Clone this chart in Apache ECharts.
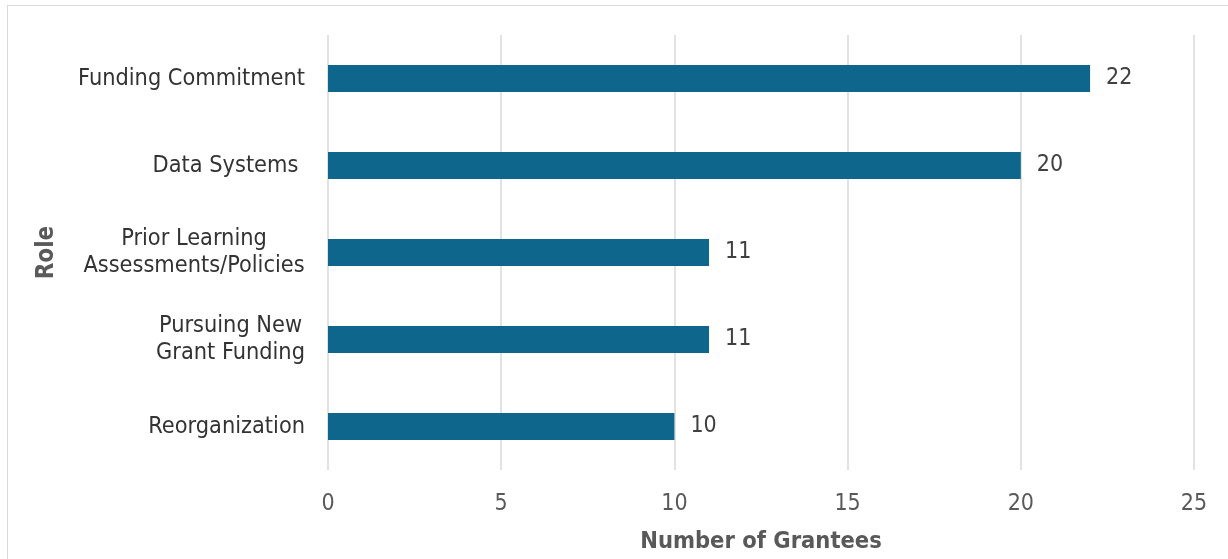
<!DOCTYPE html>
<html>
<head>
<meta charset="utf-8">
<script src="https://cdn.jsdelivr.net/npm/echarts@6/dist/echarts.min.js"></script>
<style>
  html, body { margin: 0; padding: 0; background: #ffffff; }
  #frame { position: absolute; left: 7px; top: 5px; width: 1240px; height: 580px; border: 1.5px solid #d9d9d9; box-sizing: border-box; }
  #chart { position: absolute; left: 0; top: 0; width: 1228px; height: 559px; }
</style>
</head>
<body>
<div id="frame"></div>
<div id="chart"></div>
<script>
// Roles, listed from bottom to top of the chart
const roles = [
  'Reorganization',
  'Pursuing New\nGrant Funding',
  'Prior Learning\nAssessments/Policies',
  'Data Systems ',
  'Funding Commitment'
];
// Number of grantees for each role
const grantees = [10, 11, 11, 20, 22];

const FONT = '"DejaVu Sans Condensed", "DejaVu Sans", sans-serif';
const LABEL_SIZE = 23.3;

// Multi-line category labels: lines are centred on each other while the
// whole block stays right-aligned against the axis.
const measure = document.createElement('canvas').getContext('2d');
measure.font = LABEL_SIZE + 'px ' + FONT;
const rich = {};
roles.forEach((r, i) => {
  const lines = r.split('\n');
  const w = Math.max(...lines.map(l => measure.measureText(l).width));
  rich['c' + i] = { width: Math.ceil(w), align: 'center', fontFamily: FONT, fontSize: LABEL_SIZE, color: '#333333', lineHeight: 27 };
});

const chart = echarts.init(document.getElementById('chart'), null, { renderer: 'canvas' });
chart.setOption({
  animation: false,
  grid: { left: 328, right: 34, top: 35, bottom: 89, containLabel: false },
  xAxis: {
    type: 'value',
    min: 0,
    max: 25,
    interval: 5,
    name: 'Number of Grantees',
    nameLocation: 'middle',
    nameGap: 60,
    nameTextStyle: { fontFamily: FONT, fontSize: 23.5, fontWeight: 'bold', color: '#595959' },
    axisLine: { show: false },
    axisTick: { show: false },
    axisLabel: { fontFamily: FONT, fontSize: 23, color: '#595959', margin: 23 },
    splitLine: { show: true, lineStyle: { color: '#d9d9d9', width: 1.5 } }
  },
  yAxis: {
    type: 'category',
    data: roles,
    name: 'Role',
    nameLocation: 'middle',
    nameRotate: 90,
    nameGap: 269,
    nameTextStyle: { fontFamily: FONT, fontSize: 24, fontWeight: 'bold', color: '#595959' },
    axisLine: { show: false },
    axisTick: { show: false },
    axisLabel: {
      fontFamily: FONT,
      fontSize: LABEL_SIZE,
      color: '#333333',
      margin: 23,
      lineHeight: 27,
      formatter: (value, idx) => {
        const lines = value.split('\n');
        if (lines.length === 1) return value;
        return lines.map(l => '{c' + idx + '|' + l + '}').join('\n');
      },
      rich: rich
    },
    splitLine: { show: false }
  },
  series: [{
    type: 'bar',
    data: grantees,
    barWidth: 27,
    itemStyle: { color: '#0f668c' },
    label: {
      show: true,
      position: 'right',
      distance: 16,
      fontFamily: FONT,
      fontSize: 23,
      color: '#404040'
    }
  }]
});
</script>
</body>
</html>
